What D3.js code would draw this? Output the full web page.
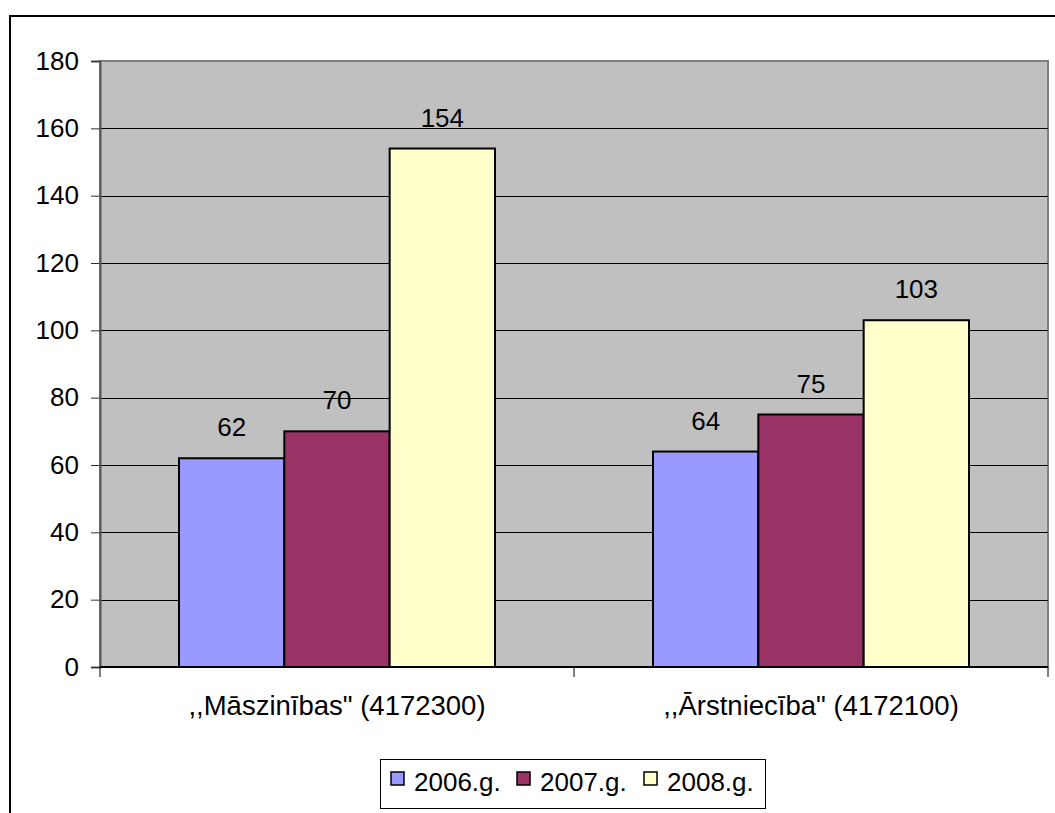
<!DOCTYPE html>
<html><head><meta charset="utf-8">
<script src="https://cdn.jsdelivr.net/npm/d3@7"></script>
<style>html,body{margin:0;padding:0;background:#fff;}svg{display:block;}</style>
</head><body>
<svg id="c" width="1055" height="813"></svg>
<script>
const categories = [",,Māszinības\" (4172300)", ",,Ārstniecība\" (4172100)"];
const seriesNames = ["2006.g.", "2007.g.", "2008.g."];
const values2006 = [62, 64];
const values2007 = [70, 75];
const values2008 = [154, 103];
const yTicks = [0, 20, 40, 60, 80, 100, 120, 140, 160, 180];
const colors = ["#9999FF", "#993366", "#FFFFCC"];

const series = [values2006, values2007, values2008];
const svg = d3.select("#c");
const font = "Liberation Sans, Arial, sans-serif";
const fs = 26;

// outer chart border (extends beyond the picture on right/bottom)
svg.append("rect").attr("x", 10).attr("y", 16).attr("width", 1100).attr("height", 900)
  .attr("fill", "#fff").attr("stroke", "#000").attr("stroke-width", 2);

const L = 100, R = 1048, T = 61, B = 667;
const x = d3.scaleBand().domain(categories).range([L, R]);
const y = d3.scaleLinear().domain([0, 180]).range([B, T]);
const bw = x.bandwidth() / 4.5;
const xs = d3.scaleBand().domain(seriesNames).range([0, bw * 3]);

// plot area
svg.append("rect").attr("x", L).attr("y", T).attr("width", R - L).attr("height", B - T)
  .attr("fill", "#C0C0C0").attr("stroke", "#808080").attr("stroke-width", 2);

// gridlines
svg.append("g").selectAll("line").data(yTicks.filter(d => d > 0 && d < 180)).join("line")
  .attr("x1", L).attr("x2", R).attr("y1", d => Math.round(y(d)) + 0.5).attr("y2", d => Math.round(y(d)) + 0.5)
  .attr("stroke", "#000").attr("stroke-width", 1);

// y axis
const yAxis = d3.axisLeft(y).tickValues(yTicks).tickSize(9).tickPadding(12);
const ga = svg.append("g").attr("transform", `translate(${L},0)`).call(yAxis);
ga.select(".domain").attr("stroke", "#555").attr("stroke-width", 2);
ga.selectAll(".tick line").attr("stroke", "#333");
ga.selectAll("text").attr("font-family", font).attr("font-size", fs).attr("fill", "#000");

// bars
const groups = svg.append("g").selectAll("g").data(series).join("g");
groups.each(function(vals, si) {
  d3.select(this).selectAll("rect").data(vals).join("rect")
    .attr("x", (d, i) => x(categories[i]) + bw * 0.75 + xs(seriesNames[si]))
    .attr("y", d => y(d))
    .attr("width", xs.bandwidth())
    .attr("height", d => B - y(d))
    .attr("fill", colors[si]).attr("stroke", "#000").attr("stroke-width", 2);
  d3.select(this).selectAll("text").data(vals).join("text")
    .attr("x", (d, i) => x(categories[i]) + bw * 0.75 + xs(seriesNames[si]) + xs.bandwidth() / 2)
    .attr("y", d => y(d) - 22)
    .attr("text-anchor", "middle").attr("font-family", font).attr("font-size", fs)
    .text(d => d);
});

// x axis
svg.append("line").attr("x1", L).attr("x2", R).attr("y1", B).attr("y2", B).attr("stroke", "#000").attr("stroke-width", 2);
svg.append("g").selectAll("line").data([L, x(categories[1]), R]).join("line")
  .attr("x1", d => d).attr("x2", d => d).attr("y1", B).attr("y2", B + 10).attr("stroke", "#000");
svg.append("g").selectAll("text").data(categories).join("text")
  .attr("x", d => x(d) + x.bandwidth() / 2).attr("y", 715)
  .attr("text-anchor", "middle").attr("font-family", font).attr("font-size", 27.5)
  .text(d => d);

// legend
const lg = svg.append("g");
lg.append("rect").attr("x", 380.5).attr("y", 759.5).attr("width", 385).attr("height", 49)
  .attr("fill", "#fff").attr("stroke", "#000").attr("stroke-width", 1);
const lx = [391, 517, 644];
seriesNames.forEach((s, i) => {
  lg.append("rect").attr("x", lx[i]).attr("y", 772).attr("width", 13).attr("height", 13)
    .attr("fill", colors[i]).attr("stroke", "#000").attr("stroke-width", 1.5);
  lg.append("text").attr("x", lx[i] + 23).attr("y", 791).attr("font-family", font).attr("font-size", fs).text(s);
});
</script>
</body></html>
